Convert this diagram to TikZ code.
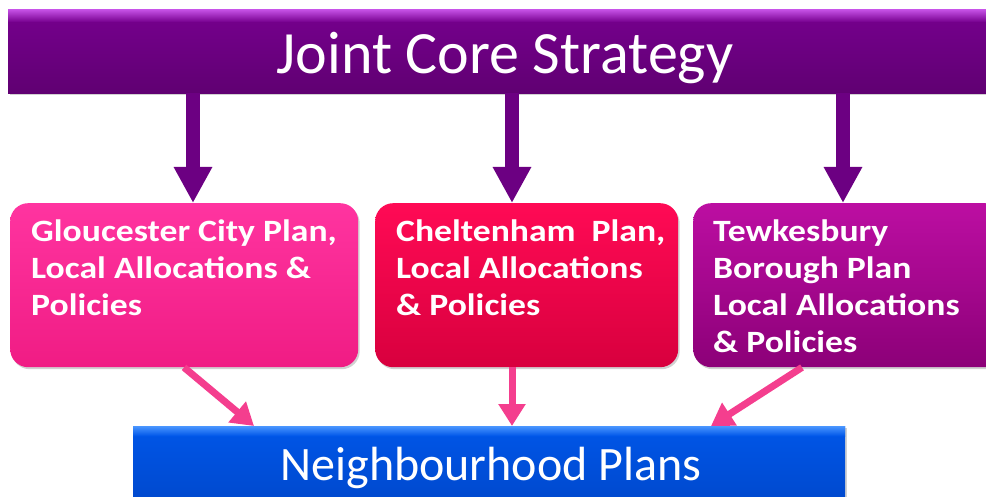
\documentclass[tikz,border=0pt]{standalone}
\usepackage{fontspec}
\setmainfont{Carlito}
\newfontfamily\planfont[FakeStretch=1.15]{Carlito}
\usetikzlibrary{arrows.meta,shadows}

\definecolor{jcsbase}{HTML}{76008E}
\definecolor{jcslight}{HTML}{C24EE2}
\definecolor{jcsdark}{HTML}{600072}
\definecolor{glosTop}{HTML}{FF34A0}
\definecolor{glosBot}{HTML}{F01C84}
\definecolor{chelTop}{HTML}{FF0A55}
\definecolor{chelBot}{HTML}{D8003E}
\definecolor{tewkTop}{HTML}{BC0EA2}
\definecolor{tewkBot}{HTML}{8C0078}
\definecolor{downPurple}{HTML}{6C0082}
\definecolor{downPink}{HTML}{F43E8E}
\definecolor{nbBase}{HTML}{0056E8}
\definecolor{nbLight}{HTML}{4A96FF}
\definecolor{nbDark}{HTML}{0048CC}

\tikzset{
  plainbox/.style={draw=none, inner sep=0pt, anchor=north west},
  softshadow/.style={drop shadow={shadow xshift=1.5pt, shadow yshift=-2pt,
    opacity=0.3, fill=black!60}},
  planbox/.style={plainbox, rounded corners=18pt, softshadow},
  plantext/.style={inner sep=0pt, anchor=north west, align=left, text=white,
    font=\planfont\fontsize{31}{37}\selectfont\bfseries},
  bartext/.style={inner sep=0pt, anchor=base, text=white},
  downarrow/.style={draw=downPurple, line width=14pt,
    -{Triangle[width=36pt,length=36pt]}},
  pinkarrow/.style={draw=downPink, line width=7pt,
    -{Triangle[width=26pt,length=22pt]}},
}

\begin{document}
\begin{tikzpicture}[x=1pt, y={(0pt,-1pt)}]
\useasboundingbox (0,0) rectangle (986,497);
\clip (0,0) rectangle (986,497);

% ---- Joint Core Strategy bar ----
\node[plainbox, minimum width=990pt, minimum height=83pt,
      top color=jcsbase, bottom color=jcsdark, softshadow]
      (jcs) at (8,10) {};
\path[top color=jcslight, bottom color=jcsbase] (8,10) rectangle (990,22);
\node[bartext, font=\fontsize{60}{60}\selectfont] (jcstext) at (505,74) {Joint Core Strategy};

% ---- district plan boxes ----
\node[planbox, minimum width=348pt, minimum height=164pt,
      top color=glosTop, bottom color=glosBot] (glos) at (10,203) {};
\node[planbox, minimum width=303pt, minimum height=164pt,
      top color=chelTop, bottom color=chelBot] (chel) at (375,203) {};
\node[planbox, minimum width=310pt, minimum height=164pt,
      top color=tewkTop, bottom color=tewkBot] (tewk) at (693,203) {};

\node[plantext] (glostext) at (31,220)
  {Gloucester City Plan,\\Local Allocations \&\\Policies};
\node[plantext] (cheltext) at (396,220)
  {Cheltenham\ \ Plan,\\Local Allocations\\\& Policies};
\node[plantext] (tewktext) at (713,220)
  {Tewkesbury\\Borough Plan\\Local Allocations\\\& Policies};

% ---- Neighbourhood Plans bar ----
\node[plainbox, minimum width=712pt, minimum height=80pt,
      top color=nbBase, bottom color=nbDark, softshadow]
      (nb) at (133,426) {};
\path[top color=nbLight, bottom color=nbBase] (133,426) rectangle (845,436);
\node[bartext, font=\fontsize{48}{48}\selectfont] (nbtext) at (491,480) {Neighbourhood Plans};

% ---- connector positions ----
\coordinate (d1) at (193,0);
\coordinate (d2) at (512,0);
\coordinate (d3) at (843,0);
\coordinate (p1s) at (184,0);
\coordinate (p1e) at (254,0);
\coordinate (p2) at (512,0);
\coordinate (p3s) at (802,0);
\coordinate (p3e) at (711,0);

% strategy feeds each district plan
\draw[downarrow] (d1 |- jcs.south) -- (d1 |- glos.north);
\draw[downarrow] (d2 |- jcs.south) -- (d2 |- chel.north);
\draw[downarrow] (d3 |- jcs.south) -- (d3 |- tewk.north);

% district plans feed neighbourhood plans
\draw[pinkarrow] (p1s |- glos.south) -- (p1e |- nb.north);
\draw[pinkarrow] (p2 |- chel.south) -- (p2 |- nb.north);
\draw[pinkarrow] (p3s |- tewk.south) -- (p3e |- nb.north);
\end{tikzpicture}
\end{document}
